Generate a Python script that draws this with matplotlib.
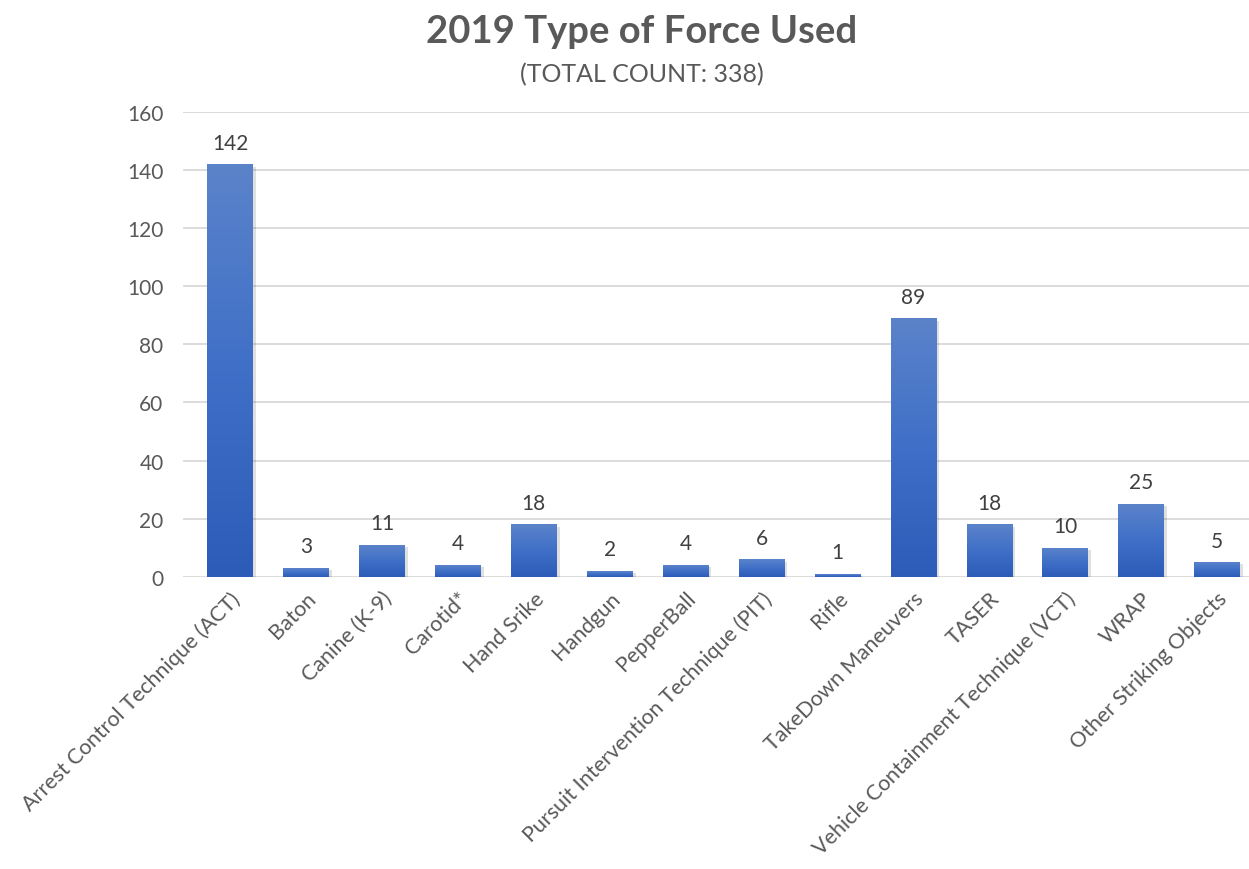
import numpy as np
import matplotlib

matplotlib.use("Agg")
import matplotlib.pyplot as plt
from matplotlib.colors import LinearSegmentedColormap

categories = [
    "Arrest Control Technique (ACT)", "Baton", "Canine (K-9)", "Carotid*",
    "Hand Srike", "Handgun", "PepperBall", "Pursuit Intervention Technique (PIT)",
    "Rifle", "TakeDown Maneuvers", "TASER", "Vehicle Containment Technique (VCT)",
    "WRAP", "Other Striking Objects",
]
counts = [142, 3, 11, 4, 18, 2, 4, 6, 1, 89, 18, 10, 25, 5]
y_ticks = [0, 20, 40, 60, 80, 100, 120, 140, 160]

plt.rcParams["font.family"] = ["Lato", "DejaVu Sans"]
text_color = "#595959"

fig = plt.figure(figsize=(12.49, 8.70), dpi=100)
ax = fig.add_axes([0.1465, 0.336, 0.8535, 0.534])

x = np.arange(len(categories))
bars = ax.bar(x, counts, width=0.6, color="none", zorder=3)

cmap = LinearSegmentedColormap.from_list("bar", ["#2c5cb8", "#3f6fc7", "#5b83ca"])
grad = np.linspace(0, 1, 256).reshape(-1, 1)
for b in bars:
    x0, w, h = b.get_x(), b.get_width(), b.get_height()
    # soft shadow
    ax.bar(x0 + w / 2 + 0.02, h, width=w + 0.04, bottom=-0.8, color="#000000",
           alpha=0.12, zorder=2)
    im = ax.imshow(grad, extent=[x0, x0 + w, 0, h], origin="lower", cmap=cmap,
                   aspect="auto", zorder=3)
    im.set_clip_path(b)
    ax.text(x0 + w / 2, h + 4, str(h), ha="center", va="bottom", fontsize=15,
            color="#404040", zorder=4)

ax.set_xlim(-0.62, 13.42)
ax.set_ylim(0, 160)
ax.set_yticks(y_ticks)
ax.set_xticks(x)
ax.set_xticklabels(categories, rotation=45, ha="right", rotation_mode="anchor",
                   fontsize=15.5, color=text_color)
ax.tick_params(axis="y", labelsize=15, labelcolor=text_color, length=0, pad=14)
ax.tick_params(axis="x", length=0, pad=8)
ax.grid(axis="y", color="#d9d9d9", linewidth=1.3, zorder=0)
ax.set_axisbelow(True)
for s in ax.spines.values():
    s.set_visible(False)

fig.text(0.514, 0.963, "2019 Type of Force Used", ha="center", va="center",
         fontsize=27.5, fontweight="bold", color=text_color)
fig.text(0.514, 0.914, "(TOTAL COUNT: 338)", ha="center", va="center",
         fontsize=18, color=text_color)

fig.savefig("out.png", dpi=100)
